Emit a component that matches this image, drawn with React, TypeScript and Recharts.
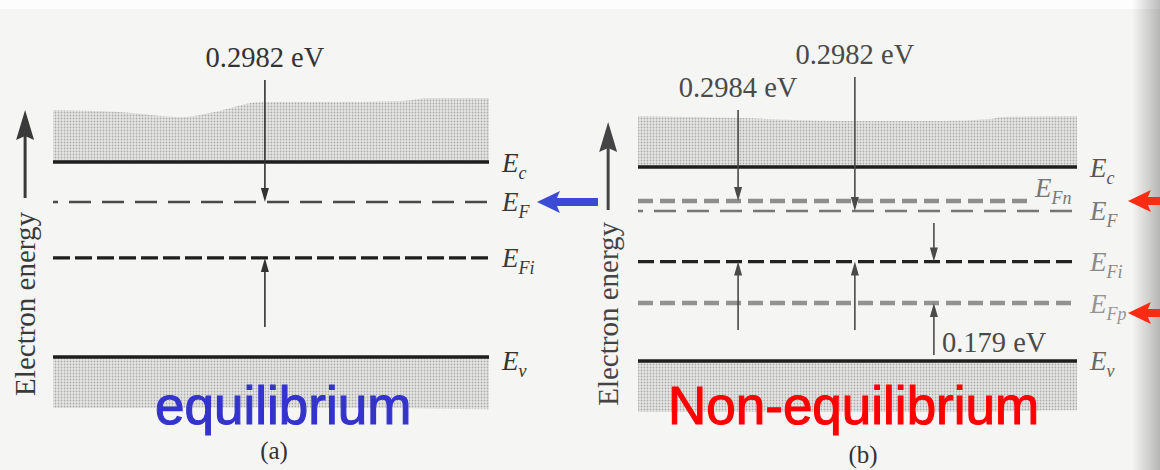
import React from 'react';
import { ComposedChart, Area, XAxis, YAxis, ReferenceLine } from 'recharts';

// ---------------- data (energies in eV above Ev, as drawn) ----------------
// band-edge outline, x as fraction of the band width
const bandXA = [0, 0.15, 0.3, 0.37, 0.48, 0.65, 0.8, 0.86, 1];
const cbTopA = [1.419, 1.407, 1.378, 1.407, 1.465, 1.465, 1.47, 1.488, 1.488];
const vbBottomA = [-0.293, -0.293, -0.293, -0.29, -0.29, -0.293, -0.293, -0.296, -0.3];

const bandXB = [0, 0.23, 0.46, 0.69, 0.8, 0.83, 1];
const cbTopB = [1.415, 1.403, 1.386, 1.386, 1.397, 1.409, 1.415];
const vbBottomB = [-0.294, -0.294, -0.294, -0.294, -0.294, -0.29, -0.284];

// energy levels
const levelSubA = ['c', 'F', 'Fi', 'v'];
const levelValueA = [1.12, 0.89, 0.569, 0];
const levelEndA = [1, 1, 1, 1];

const levelSubB = ['c', 'Fn', 'F', 'Fi', 'Fp', 'v'];
const levelValueB = [1.12, 0.924, 0.866, 0.574, 0.335, 0];
const levelEndB = [1, 0.893, 1, 1, 1, 1];

// energy-difference arrows (x, from, to) and their labels
const gapXA = [0.486, 0.486];
const gapFromA = [1.591, 0.172];
const gapToA = [0.89, 0.569];
const gapTextA = ['0.2982 eV', ''];

const gapXB = [0.228, 0.494, 0.228, 0.494, 0.674, 0.674];
const gapFromB = [1.449, 1.64, 0.179, 0.179, 0.797, 0.035];
const gapToB = [0.924, 0.866, 0.574, 0.574, 0.574, 0.335];
const gapTextB = ['0.2984 eV', '0.2982 eV', '', '', '', '0.179 eV'];

// highlight pointers (level they point at)
const pointerYA = [0.89];
const pointerYB = [0.924, 0.277];

// "Electron energy" axis arrow (from, to)
const energyAxisA = [0.913, 1.419];
const energyAxisB = [0.872, 1.38];

const axisLabel = 'Electron energy';
const panelTags = ['(a)', '(b)'];
const panelTitles = ['equilibrium', 'Non-equilibrium'];

// ---------------- styles ----------------
const serif = '"Liberation Serif", "Times New Roman", serif';
const sans = '"Liberation Sans", Arial, sans-serif';

type LevelStyle = { stroke: string; width: number; dash?: string; offset?: number; label: string; dx: number; dy: number };

const solid = (label: string, dy: number): LevelStyle => ({ stroke: '#1e1e1e', width: 3.4, label, dx: 13, dy });

const levelStyleA: LevelStyle[] = [
  solid('#333', 10),
  { stroke: '#4a4a4a', width: 2.4, dash: '22 11', offset: 17, label: '#3a3a3a', dx: 13, dy: 9 },
  { stroke: '#1e1e1e', width: 3.4, dash: '17 5', label: '#3a3a3a', dx: 13, dy: 9 },
  solid('#333', 13),
];

const levelStyleB: LevelStyle[] = [
  solid('#555', 10),
  { stroke: '#8e8e8e', width: 4.5, dash: '15 7', label: '#777', dx: 5, dy: -4 },
  { stroke: '#767676', width: 2.4, dash: '22 11', offset: 17, label: '#7a7a7a', dx: 13, dy: 9 },
  { stroke: '#222', width: 3.2, dash: '16 6', label: '#8a8a8a', dx: 13, dy: 9 },
  { stroke: '#929292', width: 4.5, dash: '15 7', label: '#959595', dx: 13, dy: 10 },
  solid('#666', 9),
];

const levelShape = (sub: string, s: LevelStyle) => (p: any) => (
  <g>
    <line x1={p.x1} y1={p.y1} x2={p.x2} y2={p.y2} stroke={s.stroke} strokeWidth={s.width}
      strokeDasharray={s.dash} strokeDashoffset={s.offset} />
    <text x={p.x2 + s.dx} y={p.y1 + s.dy} fontFamily={serif} fontStyle="italic" fontSize={27} fill={s.label}>
      E<tspan fontSize={18} dy={7}>{sub}</tspan>
    </text>
  </g>
);

const gapShape = (text: string, color: string) => (p: any) => {
  const { x1, y1, y2 } = p;
  const dir = y2 > y1 ? 1 : -1;
  const hl = 14;
  const hw = 4;
  const right = dir < 0 && text !== '';
  return (
    <g>
      <line x1={x1} y1={y1} x2={x1} y2={y2 - dir * hl * 0.5} stroke={color} strokeWidth={1.6} />
      <polygon points={`${x1},${y2} ${x1 - hw},${y2 - dir * hl} ${x1 + hw},${y2 - dir * hl}`} fill={color} />
      {text !== '' && (right ? (
        <text x={x1 + 8} y={y1 - 3} fontFamily={serif} fontSize={28.5} fill={color}>{text}</text>
      ) : (
        <text x={x1} y={y1 - 13} textAnchor="middle" fontFamily={serif} fontSize={28.5} fill={color}>{text}</text>
      ))}
    </g>
  );
};

const pointerShape = (color: string) => (p: any) => {
  const tail = p.x1;
  const tip = p.x2;
  const y = p.y1;
  const hl = 23, hh = 11, sh = 4;
  const d = `M${tip},${y} L${tip + hl},${y - hh} L${tip + hl - 3},${y - sh} L${tail},${y - sh} L${tail},${y + sh} L${tip + hl - 3},${y + sh} L${tip + hl},${y + hh} Z`;
  return <path d={d} fill={color} />;
};

const energyAxisShape = (text: string, color: string, textGap: number) => (p: any) => {
  const x = p.x1;
  const yTail = p.y1;
  const yTip = p.y2;
  return (
    <g>
      <line x1={x} y1={yTail} x2={x} y2={yTip + 24} stroke={color} strokeWidth={3} />
      <polygon points={`${x},${yTip} ${x - 9},${yTip + 30} ${x},${yTip + 26} ${x + 9},${yTip + 30}`} fill={color} />
      <text transform={`translate(${x + 10},${yTail + textGap}) rotate(-90)`} textAnchor="end"
        fontFamily={serif} fontSize={29} fill={color}>{text}</text>
    </g>
  );
};

type PanelCfg = {
  id: string;
  width: number;
  left: number;
  margin: { top: number; right: number; bottom: number; left: number };
  bandX: number[]; cbTop: number[]; vbBottom: number[];
  levelSub: string[]; levelValue: number[]; levelEnd: number[]; levelStyle: LevelStyle[];
  gapX: number[]; gapFrom: number[]; gapTo: number[]; gapText: string[]; gapColor: string;
  pointerY: number[]; pointerTail: number; pointerTip: number; pointerColor: string;
  energyAxis: number[]; energyAxisX: number; axisColor: string; axisTextGap: number;
};

function Panel({ cfg }: { cfg: PanelCfg }) {
  const ec = cfg.levelValue[0];
  const ev = cfg.levelValue[cfg.levelValue.length - 1];
  const data = cfg.bandX.map((x, i) => ({ x, cb: [ec, cfg.cbTop[i]], vb: [cfg.vbBottom[i], ev] }));
  const pat = `dots-${cfg.id}`;
  return (
    <div style={{ position: 'absolute', left: cfg.left, top: 0 }}>
      <ComposedChart width={cfg.width} height={470} data={data} margin={cfg.margin}>
        <defs>
          <pattern id={pat} width="3" height="3" patternUnits="userSpaceOnUse">
            <rect width="3" height="3" fill="#e6e6e4" />
            <circle cx="1.5" cy="1.5" r="0.9" fill="#ababab" />
          </pattern>
        </defs>
        <XAxis type="number" dataKey="x" domain={[0, 1]} hide allowDataOverflow />
        <YAxis type="number" domain={[-0.4, 1.75]} hide allowDataOverflow />
        <Area dataKey="cb" type="monotone" stroke="none" fill={`url(#${pat})`} fillOpacity={1}
          isAnimationActive={false} dot={false} activeDot={false} />
        <Area dataKey="vb" type="monotone" stroke="none" fill={`url(#${pat})`} fillOpacity={1}
          isAnimationActive={false} dot={false} activeDot={false} />
        {cfg.levelValue.map((v, i) => (
          <ReferenceLine key={`lv${i}`} segment={[{ x: 0, y: v }, { x: cfg.levelEnd[i], y: v }]}
            ifOverflow="visible" shape={levelShape(cfg.levelSub[i], cfg.levelStyle[i])} />
        ))}
        {cfg.gapX.map((x, i) => (
          <ReferenceLine key={`gap${i}`} segment={[{ x, y: cfg.gapFrom[i] }, { x, y: cfg.gapTo[i] }]}
            ifOverflow="visible" shape={gapShape(cfg.gapText[i], cfg.gapColor)} />
        ))}
        {cfg.pointerY.map((y, i) => (
          <ReferenceLine key={`ptr${i}`} segment={[{ x: cfg.pointerTail, y }, { x: cfg.pointerTip, y }]}
            ifOverflow="visible" shape={pointerShape(cfg.pointerColor)} />
        ))}
        <ReferenceLine segment={[{ x: cfg.energyAxisX, y: cfg.energyAxis[0] }, { x: cfg.energyAxisX, y: cfg.energyAxis[1] }]}
          ifOverflow="visible" shape={energyAxisShape(axisLabel, cfg.axisColor, cfg.axisTextGap)} />
      </ComposedChart>
    </div>
  );
}

const panelA: PanelCfg = {
  id: 'a', width: 600, left: 0,
  margin: { top: 52.3, right: 111, bottom: 43.4, left: 53 },
  bandX: bandXA, cbTop: cbTopA, vbBottom: vbBottomA,
  levelSub: levelSubA, levelValue: levelValueA, levelEnd: levelEndA, levelStyle: levelStyleA,
  gapX: gapXA, gapFrom: gapFromA, gapTo: gapToA, gapText: gapTextA, gapColor: '#333',
  pointerY: pointerYA, pointerTail: 1.25, pointerTip: 1.11, pointerColor: '#3c4bd4',
  energyAxis: energyAxisA, energyAxisX: -0.064, axisColor: '#3a3a3a', axisTextGap: 14,
};

const panelB: PanelCfg = {
  id: 'b', width: 580, left: 580,
  margin: { top: 57.9, right: 83, bottom: 39.7, left: 58 },
  bandX: bandXB, cbTop: cbTopB, vbBottom: vbBottomB,
  levelSub: levelSubB, levelValue: levelValueB, levelEnd: levelEndB, levelStyle: levelStyleB,
  gapX: gapXB, gapFrom: gapFromB, gapTo: gapToB, gapText: gapTextB, gapColor: '#4a4a4a',
  pointerY: pointerYB, pointerTail: 1.19, pointerTip: 1.116, pointerColor: '#fa2d14',
  energyAxis: energyAxisB, energyAxisX: -0.068, axisColor: '#444', axisTextGap: 12,
};

export default function App() {
  return (
    <div style={{ position: 'absolute', left: 0, top: 0, width: 1160, height: 470, background: '#f5f5f3', overflow: 'hidden' }}>
      <div style={{ position: 'absolute', left: 0, top: 0, width: 1160, height: 9, background: '#fdfdfd' }} />
      <div style={{ position: 'absolute', left: 1132, top: 0, width: 28, height: 470,
        background: 'linear-gradient(to right, rgba(0,0,0,0), rgba(0,0,0,0.26))' }} />
      <Panel cfg={panelA} />
      <Panel cfg={panelB} />
      <svg width={1160} height={470} style={{ position: 'absolute', left: 0, top: 0, pointerEvents: 'none' }}>
        <text x={155} y={424} fontFamily={sans} fontSize={53} fill="#3434cc" stroke="#3434cc" strokeWidth={1.1}>{panelTitles[0]}</text>
        <text x={668} y={424} fontFamily={sans} fontSize={53} fill="#ff0000" stroke="#ff0000" strokeWidth={1.1}>{panelTitles[1]}</text>
        <text x={274} y={459} textAnchor="middle" fontFamily={serif} fontSize={25} fill="#333">{panelTags[0]}</text>
        <text x={863} y={463} textAnchor="middle" fontFamily={serif} fontSize={25} fill="#333">{panelTags[1]}</text>
      </svg>
    </div>
  );
}
